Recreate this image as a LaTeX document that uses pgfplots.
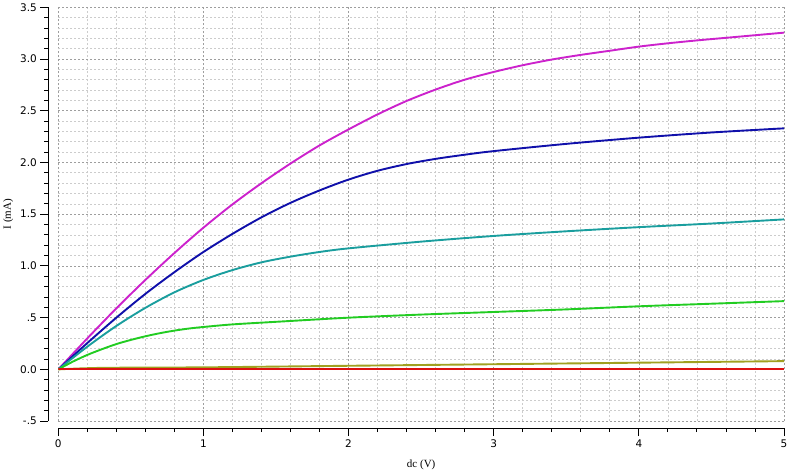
\documentclass[border=0pt]{standalone}
\usepackage{pgfplots}
\pgfplotsset{compat=1.18}
\usepackage{fontspec}
\setmainfont{DejaVu Sans}
\newfontfamily\labfont{Liberation Serif}
\definecolor{cmag}{RGB}{204,34,204}
\definecolor{cblue}{RGB}{16,16,170}
\definecolor{cteal}{RGB}{26,158,158}
\definecolor{cgreen}{RGB}{34,204,34}
\definecolor{colive}{RGB}{160,160,32}
\definecolor{cred}{RGB}{221,17,17}
\begin{document}
\begin{tikzpicture}
\begin{axis}[name=ax, scale only axis, width=726pt, height=414pt,
  xmin=0, xmax=5, ymin=-0.5, ymax=3.5,
  axis lines*=left, axis x line shift=7pt, axis y line shift=10pt,
  every outer x axis line/.append style={-},
  every outer y axis line/.append style={-},
  axis line style={black, line width=0.9pt},
  xtick={0,1,2,3,4,5}, xticklabels={0,1,2,3,4,5},
  ytick={-0.5,0,0.5,1,1.5,2,2.5,3,3.5},
  yticklabels={-.5,0.0,.5,1.0,1.5,2.0,2.5,3.0,3.5},
  minor x tick num=4, minor y tick num=4,
  tick align=outside, major tick length=8pt, minor tick length=4pt,
  tick style={black, line width=0.9pt},
  grid=both,
  major grid style={black!38, dash pattern=on 2pt off 2pt, line width=0.7pt},
  minor grid style={black!20, dash pattern=on 2pt off 2pt, line width=0.7pt},
  tick label style={font=\fontsize{10.5}{12}\selectfont},
  xlabel={\labfont dc (V)}, ylabel={\labfont I (mA)},
  label style={font=\fontsize{11}{13}\selectfont},
  xlabel style={at={([yshift=-44pt]axis description cs:0.5,0)}, anchor=center},
  ylabel style={at={([xshift=-50pt]axis description cs:0,0.5)}, anchor=center},
  every axis plot/.append style={line width=1.9pt, no markers, smooth, tension=0.5},
]
\addplot[cmag] coordinates {(0,0)(0.2,0.30)(0.4,0.59)(0.6,0.865)(0.8,1.125)(1.0,1.37)(1.2,1.595)(1.4,1.80)(1.6,1.99)(1.8,2.165)(2.0,2.32)(2.2,2.465)(2.4,2.595)(2.6,2.705)(2.8,2.80)(3.0,2.875)(3.2,2.94)(3.4,2.995)(3.6,3.04)(3.8,3.08)(4.0,3.12)(4.2,3.152)(4.4,3.18)(4.6,3.205)(4.8,3.23)(5.0,3.255)};
\addplot[cblue] coordinates {(0,0)(0.2,0.255)(0.4,0.50)(0.6,0.73)(0.8,0.94)(1.0,1.135)(1.2,1.31)(1.4,1.47)(1.6,1.61)(1.8,1.73)(2.0,1.835)(2.2,1.92)(2.4,1.985)(2.6,2.035)(2.8,2.075)(3.0,2.11)(3.5,2.18)(4.0,2.24)(4.5,2.29)(5.0,2.33)};
\addplot[cteal] coordinates {(0,0)(0.2,0.22)(0.4,0.42)(0.6,0.595)(0.8,0.745)(1.0,0.865)(1.2,0.96)(1.4,1.035)(1.6,1.09)(1.8,1.135)(2.0,1.17)(2.5,1.235)(3.0,1.29)(3.5,1.335)(4.0,1.375)(4.5,1.41)(5.0,1.45)};
\addplot[cgreen] coordinates {(0,0)(0.1,0.075)(0.2,0.14)(0.3,0.195)(0.4,0.245)(0.5,0.285)(0.6,0.32)(0.7,0.35)(0.8,0.375)(0.9,0.395)(1.0,0.41)(1.2,0.435)(1.5,0.46)(2.0,0.50)(2.5,0.53)(3.0,0.555)(3.5,0.58)(4.0,0.61)(4.5,0.635)(5.0,0.66)};
\addplot[colive] coordinates {(0,0)(0.3,0.015)(1,0.02)(2,0.035)(3,0.05)(4,0.065)(5,0.08)};
\addplot[cred, sharp plot] coordinates {(0,0)(5,0)};
\end{axis}
\path (ax.south west) ++(-58pt,-51pt) coordinate (bl);
\path (ax.north east) ++(15pt,7pt) coordinate (tr);
\path (bl) (tr);
\end{tikzpicture}
\end{document}
